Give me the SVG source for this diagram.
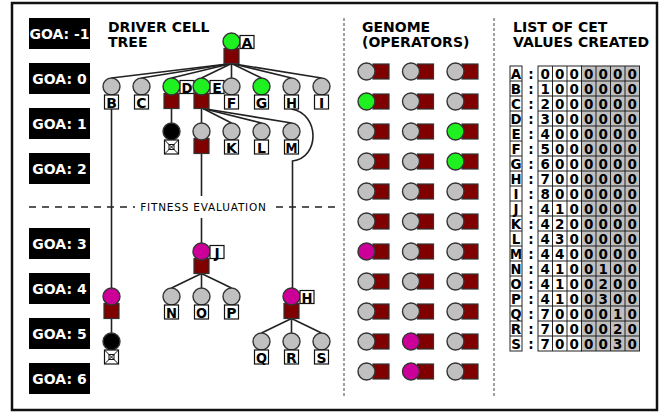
<svg xmlns="http://www.w3.org/2000/svg" width="665" height="414" viewBox="0 0 665 414">
<defs>
<style>
.frame{fill:#fff;stroke:#111;stroke-width:2.5}
.goa{fill:#000}
.goat{fill:#fff;font-family:"DejaVu Sans",Verdana,sans-serif;font-weight:bold;font-size:14px;text-anchor:middle}
.title{fill:#000;font-family:"DejaVu Sans",Verdana,sans-serif;font-weight:bold;font-size:14px}
.sep{stroke:#444;stroke-width:1;stroke-dasharray:3 2;fill:none}
.fit{stroke:#222;stroke-width:1.3;stroke-dasharray:7 6;fill:none}
.fitt{fill:#000;font-family:"DejaVu Sans",Verdana,sans-serif;font-size:10.5px;letter-spacing:0.8px;text-anchor:middle}
.ln{stroke:#222;stroke-width:1.6;fill:none}
.gr{fill:#c0c0c0;stroke:#333;stroke-width:1.4}
.gn{fill:#1ff01f;stroke:#333;stroke-width:1.4}
.mg{fill:#cc0099;stroke:#333;stroke-width:1.4}
.bk{fill:#000;stroke:#333;stroke-width:1.4}
.sq{fill:#800000;stroke:#333;stroke-width:1.2}
.lb{fill:#fff;stroke:#111;stroke-width:1.2}
.lt{fill:#000;font-family:"DejaVu Sans",Verdana,sans-serif;font-weight:bold;font-size:14px;text-anchor:middle}
.x{stroke:#111;stroke-width:1}
.cw{fill:#fff;stroke:#222;stroke-width:1}
.cg{fill:#c0c0c0;stroke:#222;stroke-width:1}
.dt{fill:#000;font-family:"DejaVu Sans",Verdana,sans-serif;font-weight:bold;font-size:13.5px;text-anchor:middle}
</style>
</defs>
<rect class="frame" x="12" y="3" width="645" height="407"/>

<g id="goa-labels">
<rect class="goa" x="29" y="18" width="61" height="31"/><text class="goat" x="59.5" y="39">GOA: -1</text>
<rect class="goa" x="29" y="63" width="61" height="31"/><text class="goat" x="59.5" y="84">GOA: 0</text>
<rect class="goa" x="29" y="108" width="61" height="31"/><text class="goat" x="59.5" y="129">GOA: 1</text>
<rect class="goa" x="29" y="153" width="61" height="31"/><text class="goat" x="59.5" y="174">GOA: 2</text>
<rect class="goa" x="29" y="228" width="61" height="31"/><text class="goat" x="59.5" y="249">GOA: 3</text>
<rect class="goa" x="29" y="273" width="61" height="31"/><text class="goat" x="59.5" y="294">GOA: 4</text>
<rect class="goa" x="29" y="318" width="61" height="31"/><text class="goat" x="59.5" y="339">GOA: 5</text>
<rect class="goa" x="29" y="363" width="61" height="31"/><text class="goat" x="59.5" y="384">GOA: 6</text>
</g>

<g id="titles">
<text class="title" x="108" y="32">DRIVER CELL</text>
<text class="title" x="108" y="47">TREE</text>
<text class="title" x="362" y="32">GENOME</text>
<text class="title" x="362" y="47">(OPERATORS)</text>
<text class="title" x="513" y="32">LIST OF CET</text>
<text class="title" x="513" y="47">VALUES CREATED</text>
</g>

<g id="separators">
<line class="sep" x1="344" y1="18" x2="344" y2="397"/>
<line class="sep" x1="494" y1="18" x2="494" y2="397"/>
</g>

<g id="connectors">
<line class="ln" x1="231.5" y1="63.5" x2="111.5" y2="78"/>
<line class="ln" x1="231.5" y1="63.5" x2="141.5" y2="78"/>
<line class="ln" x1="231.5" y1="63.5" x2="171.5" y2="78"/>
<line class="ln" x1="231.5" y1="63.5" x2="201.5" y2="78"/>
<line class="ln" x1="231.5" y1="63.5" x2="231.5" y2="78"/>
<line class="ln" x1="231.5" y1="63.5" x2="261.5" y2="78"/>
<line class="ln" x1="231.5" y1="63.5" x2="291.5" y2="78"/>
<line class="ln" x1="231.5" y1="63.5" x2="321.5" y2="78"/>
<line class="ln" x1="171.5" y1="108.5" x2="171.5" y2="123"/>
<line class="ln" x1="201.5" y1="108.5" x2="201.5" y2="123"/>
<line class="ln" x1="203" y1="108.5" x2="231.5" y2="123"/>
<line class="ln" x1="203" y1="108.5" x2="261.5" y2="123"/>
<line class="ln" x1="203" y1="108.5" x2="291.5" y2="123"/>
<line class="ln" x1="201.5" y1="153.5" x2="201.5" y2="243"/>
<line class="ln" x1="111.5" y1="109" x2="111.5" y2="288"/>
<path class="ln" d="M291.5,109 C320,114 320,158 292.5,161 L292.5,288"/>
<line class="ln" x1="201.5" y1="273.5" x2="171.5" y2="288"/>
<line class="ln" x1="201.5" y1="273.5" x2="201.5" y2="288"/>
<line class="ln" x1="201.5" y1="273.5" x2="231.5" y2="288"/>
<line class="ln" x1="111.5" y1="318.5" x2="111.5" y2="333"/>
<line class="ln" x1="291.5" y1="318.5" x2="261.5" y2="333"/>
<line class="ln" x1="291.5" y1="318.5" x2="291.5" y2="333"/>
<line class="ln" x1="291.5" y1="318.5" x2="321.5" y2="333"/>
</g>

<g id="fitness-evaluation">
<line class="fit" x1="29" y1="207" x2="337" y2="207"/>
<rect x="135" y="196" width="137" height="22" fill="#fff"/>
<text class="fitt" x="203.5" y="211">FITNESS EVALUATION</text>
</g>

<g id="node-A"><rect class="sq" x="224" y="48.5" width="15" height="15"/><circle class="gn" cx="231.5" cy="41.5" r="8.5"/><rect class="lb" x="240" y="35.5" width="14" height="13"/><text class="lt" x="247" y="47.5">A</text></g>
<g id="node-B"><circle class="gr" cx="111.5" cy="86.5" r="8.5"/><rect class="lb" x="104.5" y="95" width="14" height="14"/><text class="lt" x="111.5" y="107.5">B</text></g>
<g id="node-C"><circle class="gr" cx="141.5" cy="86.5" r="8.5"/><rect class="lb" x="134.5" y="95" width="14" height="14"/><text class="lt" x="141.5" y="107.5">C</text></g>
<g id="node-D"><rect class="sq" x="164" y="93.5" width="15" height="15"/><circle class="gn" cx="171.5" cy="86.5" r="8.5"/><rect class="lb" x="180" y="80.5" width="14" height="13"/><text class="lt" x="187" y="92.5" textLength="11" lengthAdjust="spacingAndGlyphs">D</text></g>
<g id="node-E"><rect class="sq" x="194" y="93.5" width="15" height="15"/><circle class="gn" cx="201.5" cy="86.5" r="8.5"/><rect class="lb" x="210" y="80.5" width="14" height="13"/><text class="lt" x="217" y="92.5">E</text></g>
<g id="node-F"><circle class="gr" cx="231.5" cy="86.5" r="8.5"/><rect class="lb" x="224.5" y="95" width="14" height="14"/><text class="lt" x="231.5" y="107.5">F</text></g>
<g id="node-G"><circle class="gn" cx="261.5" cy="86.5" r="8.5"/><rect class="lb" x="254.5" y="95" width="14" height="14"/><text class="lt" x="261.5" y="107.5">G</text></g>
<g id="node-H"><circle class="gr" cx="291.5" cy="86.5" r="8.5"/><rect class="lb" x="284.5" y="95" width="14" height="14"/><text class="lt" x="291.5" y="107.5" textLength="11" lengthAdjust="spacingAndGlyphs">H</text></g>
<g id="node-I"><circle class="gr" cx="321.5" cy="86.5" r="8.5"/><rect class="lb" x="314.5" y="95" width="14" height="14"/><text class="lt" x="321.5" y="107.5">I</text></g>

<g id="node-dead-1"><circle class="bk" cx="171.5" cy="131.5" r="8.5"/><rect class="lb" x="164.5" y="140" width="14" height="14"/><line class="x" x1="164.5" y1="140" x2="178.5" y2="154"/><line class="x" x1="178.5" y1="140" x2="164.5" y2="154"/><rect x="169" y="144.5" width="5" height="5" fill="none" stroke="#111" stroke-width="1"/></g>
<g id="node-J-goa1"><rect class="sq" x="194" y="138.5" width="15" height="15"/><circle class="gr" cx="201.5" cy="131.5" r="8.5"/></g>
<g id="node-K"><circle class="gr" cx="231.5" cy="131.5" r="8.5"/><rect class="lb" x="224.5" y="140" width="14" height="14"/><text class="lt" x="231.5" y="152.5">K</text></g>
<g id="node-L"><circle class="gr" cx="261.5" cy="131.5" r="8.5"/><rect class="lb" x="254.5" y="140" width="14" height="14"/><text class="lt" x="261.5" y="152.5">L</text></g>
<g id="node-M"><circle class="gr" cx="291.5" cy="131.5" r="8.5"/><rect class="lb" x="284.5" y="140" width="14" height="14"/><text class="lt" x="291.5" y="152.5" textLength="12" lengthAdjust="spacingAndGlyphs">M</text></g>

<g id="node-J"><rect class="sq" x="194" y="258.5" width="15" height="15"/><circle class="mg" cx="201.5" cy="251.5" r="8.5"/><rect class="lb" x="210" y="245.5" width="14" height="13"/><text class="lt" x="217" y="257.5">J</text></g>
<g id="node-N"><circle class="gr" cx="171.5" cy="296.5" r="8.5"/><rect class="lb" x="164.5" y="305" width="14" height="14"/><text class="lt" x="171.5" y="317.5" textLength="11" lengthAdjust="spacingAndGlyphs">N</text></g>
<g id="node-O"><circle class="gr" cx="201.5" cy="296.5" r="8.5"/><rect class="lb" x="194.5" y="305" width="14" height="14"/><text class="lt" x="201.5" y="317.5" textLength="11" lengthAdjust="spacingAndGlyphs">O</text></g>
<g id="node-P"><circle class="gr" cx="231.5" cy="296.5" r="8.5"/><rect class="lb" x="224.5" y="305" width="14" height="14"/><text class="lt" x="231.5" y="317.5">P</text></g>
<g id="node-B-goa4"><rect class="sq" x="104" y="303.5" width="15" height="15"/><circle class="mg" cx="111.5" cy="296.5" r="8.5"/></g>
<g id="node-dead-2"><circle class="bk" cx="111.5" cy="341.5" r="8.5"/><rect class="lb" x="104.5" y="350" width="14" height="14"/><line class="x" x1="104.5" y1="350" x2="118.5" y2="364"/><line class="x" x1="118.5" y1="350" x2="104.5" y2="364"/><rect x="109" y="354.5" width="5" height="5" fill="none" stroke="#111" stroke-width="1"/></g>
<g id="node-H-goa4"><rect class="sq" x="284" y="303.5" width="15" height="15"/><circle class="mg" cx="291.5" cy="296.5" r="8.5"/><rect class="lb" x="300" y="290.5" width="14" height="13"/><text class="lt" x="307" y="302.5" textLength="11" lengthAdjust="spacingAndGlyphs">H</text></g>
<g id="node-Q"><circle class="gr" cx="261.5" cy="341.5" r="8.5"/><rect class="lb" x="254.5" y="350" width="14" height="14"/><text class="lt" x="261.5" y="362.5" textLength="11" lengthAdjust="spacingAndGlyphs">Q</text></g>
<g id="node-R"><circle class="gr" cx="291.5" cy="341.5" r="8.5"/><rect class="lb" x="284.5" y="350" width="14" height="14"/><text class="lt" x="291.5" y="362.5">R</text></g>
<g id="node-S"><circle class="gr" cx="321.5" cy="341.5" r="8.5"/><rect class="lb" x="314.5" y="350" width="14" height="14"/><text class="lt" x="321.5" y="362.5">S</text></g>

<g id="genome">
<g id="genome-row-1"><rect class="sq" x="373" y="64" width="16" height="15"/><circle class="gr" cx="366.5" cy="71.5" r="8.5"/><rect class="sq" x="417.5" y="64" width="16" height="15"/><circle class="gr" cx="411" cy="71.5" r="8.5"/><rect class="sq" x="462" y="64" width="16" height="15"/><circle class="gr" cx="455.5" cy="71.5" r="8.5"/></g>
<g id="genome-row-2"><rect class="sq" x="373" y="94" width="16" height="15"/><circle class="gn" cx="366.5" cy="101.5" r="8.5"/><rect class="sq" x="417.5" y="94" width="16" height="15"/><circle class="gr" cx="411" cy="101.5" r="8.5"/><rect class="sq" x="462" y="94" width="16" height="15"/><circle class="gr" cx="455.5" cy="101.5" r="8.5"/></g>
<g id="genome-row-3"><rect class="sq" x="373" y="124" width="16" height="15"/><circle class="gr" cx="366.5" cy="131.5" r="8.5"/><rect class="sq" x="417.5" y="124" width="16" height="15"/><circle class="gr" cx="411" cy="131.5" r="8.5"/><rect class="sq" x="462" y="124" width="16" height="15"/><circle class="gn" cx="455.5" cy="131.5" r="8.5"/></g>
<g id="genome-row-4"><rect class="sq" x="373" y="154" width="16" height="15"/><circle class="gr" cx="366.5" cy="161.5" r="8.5"/><rect class="sq" x="417.5" y="154" width="16" height="15"/><circle class="gr" cx="411" cy="161.5" r="8.5"/><rect class="sq" x="462" y="154" width="16" height="15"/><circle class="gn" cx="455.5" cy="161.5" r="8.5"/></g>
<g id="genome-row-5"><rect class="sq" x="373" y="184" width="16" height="15"/><circle class="gr" cx="366.5" cy="191.5" r="8.5"/><rect class="sq" x="417.5" y="184" width="16" height="15"/><circle class="gr" cx="411" cy="191.5" r="8.5"/><rect class="sq" x="462" y="184" width="16" height="15"/><circle class="gr" cx="455.5" cy="191.5" r="8.5"/></g>
<g id="genome-row-6"><rect class="sq" x="373" y="214" width="16" height="15"/><circle class="gr" cx="366.5" cy="221.5" r="8.5"/><rect class="sq" x="417.5" y="214" width="16" height="15"/><circle class="gr" cx="411" cy="221.5" r="8.5"/><rect class="sq" x="462" y="214" width="16" height="15"/><circle class="gr" cx="455.5" cy="221.5" r="8.5"/></g>
<g id="genome-row-7"><rect class="sq" x="373" y="244" width="16" height="15"/><circle class="mg" cx="366.5" cy="251.5" r="8.5"/><rect class="sq" x="417.5" y="244" width="16" height="15"/><circle class="gr" cx="411" cy="251.5" r="8.5"/><rect class="sq" x="462" y="244" width="16" height="15"/><circle class="gr" cx="455.5" cy="251.5" r="8.5"/></g>
<g id="genome-row-8"><rect class="sq" x="373" y="274" width="16" height="15"/><circle class="gr" cx="366.5" cy="281.5" r="8.5"/><rect class="sq" x="417.5" y="274" width="16" height="15"/><circle class="gr" cx="411" cy="281.5" r="8.5"/><rect class="sq" x="462" y="274" width="16" height="15"/><circle class="gr" cx="455.5" cy="281.5" r="8.5"/></g>
<g id="genome-row-9"><rect class="sq" x="373" y="304" width="16" height="15"/><circle class="gr" cx="366.5" cy="311.5" r="8.5"/><rect class="sq" x="417.5" y="304" width="16" height="15"/><circle class="gr" cx="411" cy="311.5" r="8.5"/><rect class="sq" x="462" y="304" width="16" height="15"/><circle class="gr" cx="455.5" cy="311.5" r="8.5"/></g>
<g id="genome-row-10"><rect class="sq" x="373" y="334" width="16" height="15"/><circle class="gr" cx="366.5" cy="341.5" r="8.5"/><rect class="sq" x="417.5" y="334" width="16" height="15"/><circle class="mg" cx="411" cy="341.5" r="8.5"/><rect class="sq" x="462" y="334" width="16" height="15"/><circle class="gr" cx="455.5" cy="341.5" r="8.5"/></g>
<g id="genome-row-11"><rect class="sq" x="373" y="364" width="16" height="15"/><circle class="gr" cx="366.5" cy="371.5" r="8.5"/><rect class="sq" x="417.5" y="364" width="16" height="15"/><circle class="mg" cx="411" cy="371.5" r="8.5"/><rect class="sq" x="462" y="364" width="16" height="15"/><circle class="gr" cx="455.5" cy="371.5" r="8.5"/></g>
</g>

<g id="cet-list">
<g id="cet-cells">
<rect class="cw" x="538" y="66" width="43.5" height="285"/>
<rect class="cg" x="581.5" y="66" width="58" height="285"/>
<g stroke="#222" stroke-width="1">
<line x1="552.5" y1="66" x2="552.5" y2="351"/><line x1="567" y1="66" x2="567" y2="351"/><line x1="596" y1="66" x2="596" y2="351"/><line x1="610.5" y1="66" x2="610.5" y2="351"/><line x1="625" y1="66" x2="625" y2="351"/>
<line x1="538" y1="81" x2="639.5" y2="81"/><line x1="538" y1="96" x2="639.5" y2="96"/><line x1="538" y1="111" x2="639.5" y2="111"/><line x1="538" y1="126" x2="639.5" y2="126"/><line x1="538" y1="141" x2="639.5" y2="141"/><line x1="538" y1="156" x2="639.5" y2="156"/><line x1="538" y1="171" x2="639.5" y2="171"/><line x1="538" y1="186" x2="639.5" y2="186"/><line x1="538" y1="201" x2="639.5" y2="201"/><line x1="538" y1="216" x2="639.5" y2="216"/><line x1="538" y1="231" x2="639.5" y2="231"/><line x1="538" y1="246" x2="639.5" y2="246"/><line x1="538" y1="261" x2="639.5" y2="261"/><line x1="538" y1="276" x2="639.5" y2="276"/><line x1="538" y1="291" x2="639.5" y2="291"/><line x1="538" y1="306" x2="639.5" y2="306"/><line x1="538" y1="321" x2="639.5" y2="321"/><line x1="538" y1="336" x2="639.5" y2="336"/>
</g>
<rect x="510" y="66" width="12" height="285" fill="#fff" stroke="#222" stroke-width="1"/>
<g stroke="#222" stroke-width="1">
<line x1="510" y1="81" x2="522" y2="81"/><line x1="510" y1="96" x2="522" y2="96"/><line x1="510" y1="111" x2="522" y2="111"/><line x1="510" y1="126" x2="522" y2="126"/><line x1="510" y1="141" x2="522" y2="141"/><line x1="510" y1="156" x2="522" y2="156"/><line x1="510" y1="171" x2="522" y2="171"/><line x1="510" y1="186" x2="522" y2="186"/><line x1="510" y1="201" x2="522" y2="201"/><line x1="510" y1="216" x2="522" y2="216"/><line x1="510" y1="231" x2="522" y2="231"/><line x1="510" y1="246" x2="522" y2="246"/><line x1="510" y1="261" x2="522" y2="261"/><line x1="510" y1="276" x2="522" y2="276"/><line x1="510" y1="291" x2="522" y2="291"/><line x1="510" y1="306" x2="522" y2="306"/><line x1="510" y1="321" x2="522" y2="321"/><line x1="510" y1="336" x2="522" y2="336"/>
</g>
</g>
<g id="cet-letters" class="dt">
<text x="516" y="78.5">A</text><text x="516" y="93.5">B</text><text x="516" y="108.5">C</text><text x="516" y="123.5" textLength="11" lengthAdjust="spacingAndGlyphs">D</text><text x="516" y="138.5">E</text><text x="516" y="153.5">F</text><text x="516" y="168.5" textLength="11" lengthAdjust="spacingAndGlyphs">G</text><text x="516" y="183.5" textLength="11" lengthAdjust="spacingAndGlyphs">H</text><text x="516" y="198.5">I</text><text x="516" y="213.5">J</text><text x="516" y="228.5">K</text><text x="516" y="243.5">L</text><text x="516" y="258.5" textLength="12" lengthAdjust="spacingAndGlyphs">M</text><text x="516" y="273.5" textLength="11" lengthAdjust="spacingAndGlyphs">N</text><text x="516" y="288.5" textLength="11" lengthAdjust="spacingAndGlyphs">O</text><text x="516" y="303.5">P</text><text x="516" y="318.5" textLength="11" lengthAdjust="spacingAndGlyphs">Q</text><text x="516" y="333.5">R</text><text x="516" y="348.5">S</text>
</g>
<g id="cet-colons" class="dt">
<text x="531" y="78.5">:</text><text x="531" y="93.5">:</text><text x="531" y="108.5">:</text><text x="531" y="123.5">:</text><text x="531" y="138.5">:</text><text x="531" y="153.5">:</text><text x="531" y="168.5">:</text><text x="531" y="183.5">:</text><text x="531" y="198.5">:</text><text x="531" y="213.5">:</text><text x="531" y="228.5">:</text><text x="531" y="243.5">:</text><text x="531" y="258.5">:</text><text x="531" y="273.5">:</text><text x="531" y="288.5">:</text><text x="531" y="303.5">:</text><text x="531" y="318.5">:</text><text x="531" y="333.5">:</text><text x="531" y="348.5">:</text>
</g>
<g id="cet-values" class="dt">
<text x="545.25 559.75 574.25 588.75 603.25 617.75 632.25" y="78.5">0000000</text>
<text x="545.25 559.75 574.25 588.75 603.25 617.75 632.25" y="93.5">1000000</text>
<text x="545.25 559.75 574.25 588.75 603.25 617.75 632.25" y="108.5">2000000</text>
<text x="545.25 559.75 574.25 588.75 603.25 617.75 632.25" y="123.5">3000000</text>
<text x="545.25 559.75 574.25 588.75 603.25 617.75 632.25" y="138.5">4000000</text>
<text x="545.25 559.75 574.25 588.75 603.25 617.75 632.25" y="153.5">5000000</text>
<text x="545.25 559.75 574.25 588.75 603.25 617.75 632.25" y="168.5">6000000</text>
<text x="545.25 559.75 574.25 588.75 603.25 617.75 632.25" y="183.5">7000000</text>
<text x="545.25 559.75 574.25 588.75 603.25 617.75 632.25" y="198.5">8000000</text>
<text x="545.25 559.75 574.25 588.75 603.25 617.75 632.25" y="213.5">4100000</text>
<text x="545.25 559.75 574.25 588.75 603.25 617.75 632.25" y="228.5">4200000</text>
<text x="545.25 559.75 574.25 588.75 603.25 617.75 632.25" y="243.5">4300000</text>
<text x="545.25 559.75 574.25 588.75 603.25 617.75 632.25" y="258.5">4400000</text>
<text x="545.25 559.75 574.25 588.75 603.25 617.75 632.25" y="273.5">4100100</text>
<text x="545.25 559.75 574.25 588.75 603.25 617.75 632.25" y="288.5">4100200</text>
<text x="545.25 559.75 574.25 588.75 603.25 617.75 632.25" y="303.5">4100300</text>
<text x="545.25 559.75 574.25 588.75 603.25 617.75 632.25" y="318.5">7000010</text>
<text x="545.25 559.75 574.25 588.75 603.25 617.75 632.25" y="333.5">7000020</text>
<text x="545.25 559.75 574.25 588.75 603.25 617.75 632.25" y="348.5">7000030</text>
</g>
</g>
</svg>
